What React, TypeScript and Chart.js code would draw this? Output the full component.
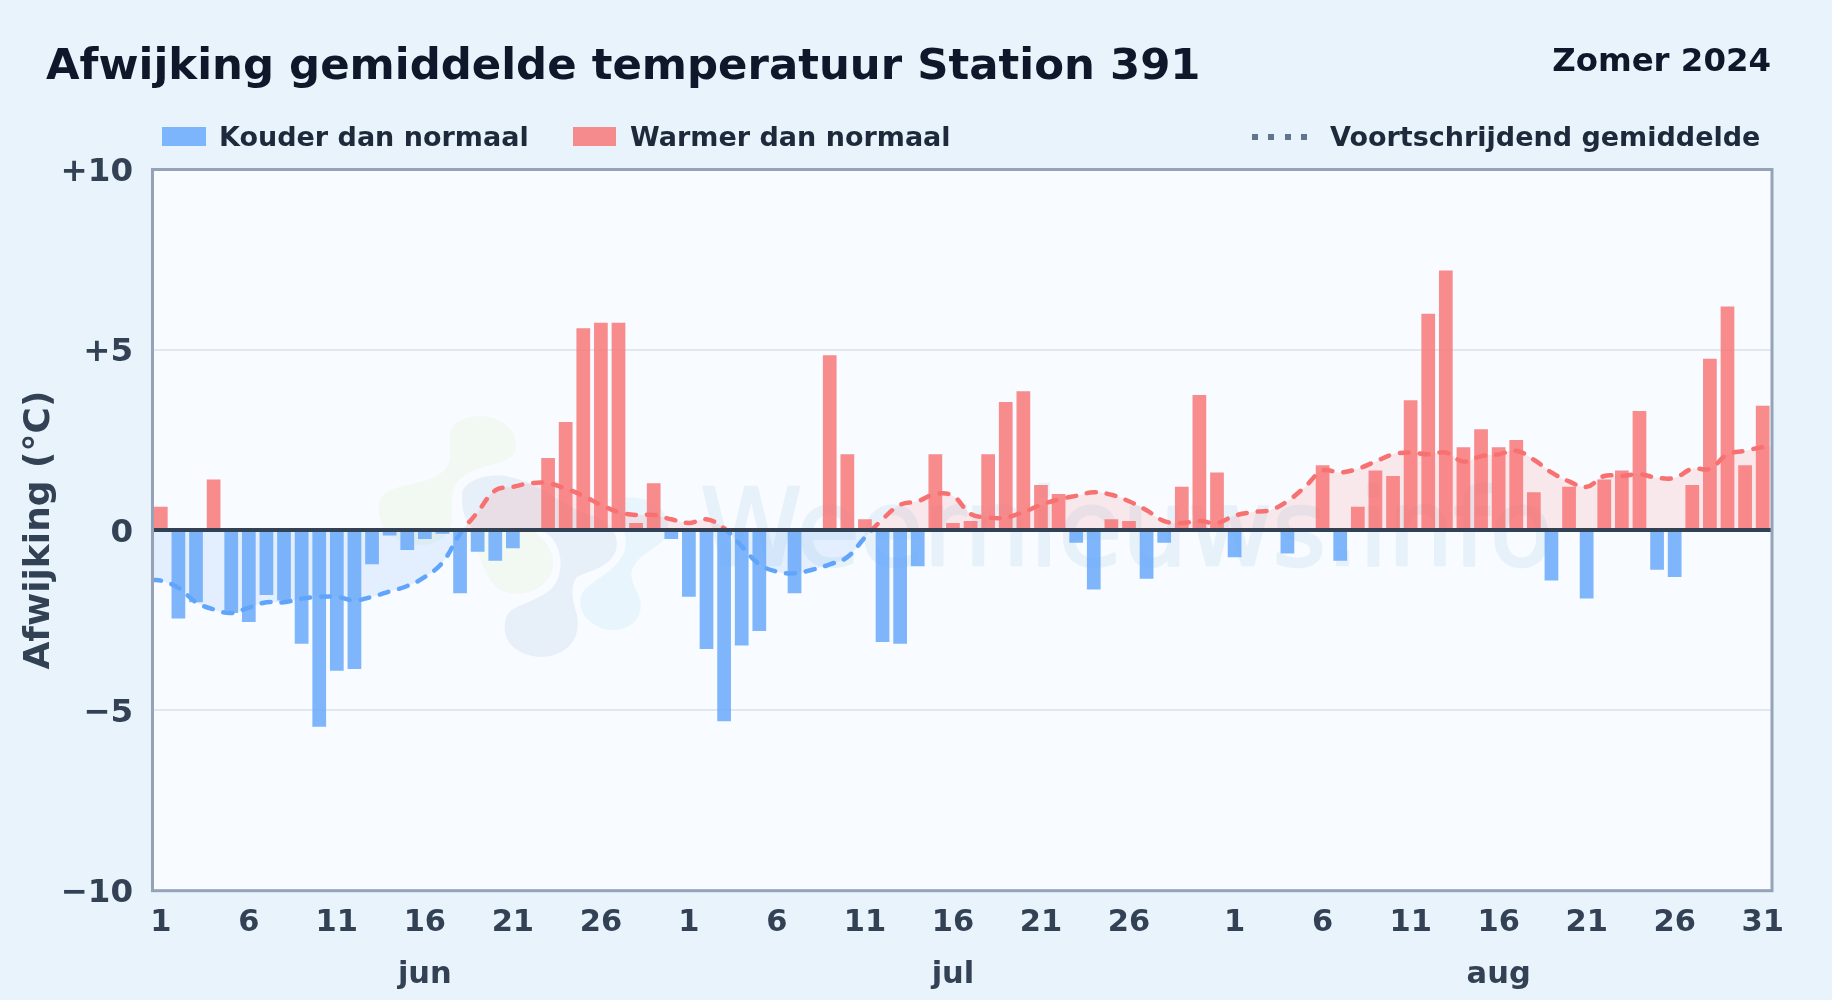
import React, { useEffect, useRef } from "react";
import { Chart, registerables } from "chart.js";

Chart.register(...registerables);

const FONT = '"DejaVu Sans", sans-serif';

const dayLabels = [
  "1","2","3","4","5","6","7","8","9","10","11","12","13","14","15","16","17","18","19","20","21","22","23","24","25","26","27","28","29","30",
  "1","2","3","4","5","6","7","8","9","10","11","12","13","14","15","16","17","18","19","20","21","22","23","24","25","26","27","28","29","30","31",
  "1","2","3","4","5","6","7","8","9","10","11","12","13","14","15","16","17","18","19","20","21","22","23","24","25","26","27","28","29","30","31",
];
const shownTickIndexes = [0,5,10,15,20,25,30,35,40,45,50,55,61,66,71,76,81,86,91];
const monthTicks: Record<number, string> = { 15: "jun", 45: "jul", 76: "aug" };

const deviation = [
  0.65,-2.45,-2.0,1.4,-2.3,-2.55,-1.8,-1.95,-3.15,-5.45,-3.9,-3.85,-0.95,-0.15,-0.55,-0.25,-0.1,-1.75,-0.6,-0.85,-0.5,0.05,2.0,3.0,5.6,5.75,5.75,0.2,1.3,-0.25,
  -1.85,-3.3,-5.3,-3.2,-2.8,0,-1.75,0,4.85,2.1,0.3,-3.1,-3.15,-1.0,2.1,0.2,0.25,2.1,3.55,3.85,1.25,1.0,-0.35,-1.65,0.3,0.25,-1.35,-0.35,1.2,3.75,1.6,
  -0.75,0,0,-0.65,0,1.8,-0.85,0.65,1.65,1.5,3.6,6.0,7.2,2.3,2.8,2.3,2.5,1.05,-1.4,1.2,-1.9,1.4,1.65,3.3,-1.1,-1.3,1.25,4.75,6.2,1.8,3.45,
];

const movingAverage = [
  -1.4,-1.6,-2.0,-2.2,-2.3,-2.15,-2.0,-2.0,-1.9,-1.85,-1.85,-1.95,-1.85,-1.7,-1.55,-1.3,-0.9,-0.1,0.5,1.1,1.2,1.3,1.3,1.15,0.95,0.7,0.5,0.42,0.42,0.3,
  0.2,0.3,0.05,-0.45,-0.95,-1.15,-1.2,-1.1,-0.95,-0.75,-0.2,0.3,0.7,0.8,1.0,0.95,0.45,0.35,0.35,0.5,0.7,0.85,0.95,1.05,0.98,0.8,0.55,0.25,0.2,0.25,0.2,
  0.4,0.5,0.55,0.8,1.2,1.65,1.6,1.7,1.9,2.1,2.15,2.1,2.15,1.9,2.05,2.1,2.2,1.95,1.6,1.35,1.2,1.5,1.5,1.55,1.45,1.45,1.7,1.7,2.1,2.2,2.3,
];
const movingAverageStart = -1.38;
const movingAverageEnd = 2.3;

const COLD = "rgba(96,165,250,0.8)";
const WARM = "rgba(248,113,113,0.8)";

const blobs = [
  { fill: "#f2f8f2", d: "M450 432C455 412 505 408 515 438C522 462 495 463 480 468C460 476 450 482 452 510C454 535 440 546 415 545C385 540 375 520 380 500C385 490 395 488 420 482C445 476 452 465 450 450Z" },
  { fill: "#f2f8f2", d: "M470 525C490 525 510 520 530 530C550 540 558 560 550 575C540 595 515 597 500 590C485 580 478 550 470 525Z" },
  { fill: "#e7f0f9", d: "M462 495C462 480 490 472 510 477C540 483 570 510 590 515C610 520 620 535 616 550C610 568 590 570 577 577C570 585 572 600 577 615C582 640 565 657 540 657C515 655 500 640 506 618C510 605 530 605 550 590C565 578 565 545 545 532C520 520 475 540 470 525C462 515 462 505 462 495Z" },
  { fill: "#e9f5fd", d: "M625 498C650 495 670 510 668 530C665 548 640 550 632 570C628 585 645 595 640 612C635 630 610 635 595 625C578 615 575 595 590 585C610 570 630 560 625 535C620 515 610 505 625 498Z" },
];

const backdrop = {
  id: "backdrop",
  beforeDraw(chart: any) {
    const { ctx, chartArea: a } = chart;
    ctx.save();
    ctx.fillStyle = "#f8fbff";
    ctx.fillRect(a.left, a.top, a.right - a.left, a.bottom - a.top);
    for (const b of blobs) {
      ctx.fillStyle = b.fill;
      ctx.fill(new Path2D(b.d));
    }
    ctx.fillStyle = "#e7f1fa";
    ctx.strokeStyle = "#e7f1fa";
    ctx.lineWidth = 2.5;
    ctx.lineJoin = "round";
    ctx.font = `400 107px ${FONT}`;
    ctx.textBaseline = "alphabetic";
    ctx.textAlign = "left";
    ctx.fillText("Weernieuws.info", 700, 565, 853);
    ctx.strokeText("Weernieuws.info", 700, 565, 853);
    ctx.restore();
  },
};

const frame = {
  id: "frame",
  afterDatasetsDraw(chart: any) {
    const { ctx, chartArea: a, scales } = chart;
    const y0 = scales.y.getPixelForValue(0);
    ctx.save();
    ctx.strokeStyle = "#334155";
    ctx.lineWidth = 4;
    ctx.beginPath();
    ctx.moveTo(a.left, y0);
    ctx.lineTo(a.right, y0);
    ctx.stroke();
    ctx.strokeStyle = "#94a3b8";
    ctx.lineWidth = 3;
    ctx.strokeRect(a.left + 0.5, a.top, a.right - a.left, a.bottom - a.top);
    ctx.restore();
  },
};

function splitStroke(c: any) {
  const { chart } = c;
  const { chartArea: a, scales, ctx } = chart;
  if (!a) return "#f87171";
  const stop = Math.min(1, Math.max(0, (scales.y.getPixelForValue(0) - a.top) / (a.bottom - a.top)));
  const g = ctx.createLinearGradient(0, a.top, 0, a.bottom);
  g.addColorStop(0, "#f87171");
  g.addColorStop(stop, "#f87171");
  g.addColorStop(stop, "#60a5fa");
  g.addColorStop(1, "#60a5fa");
  return g;
}

const textBase: React.CSSProperties = {
  position: "absolute",
  fontFamily: FONT,
  fontWeight: 700,
  whiteSpace: "nowrap",
  lineHeight: 1,
};

function LegendText({ left, text }: { left: number; text: string }) {
  return <div style={{ ...textBase, left, top: 123, fontSize: 27, color: "#1e293b" }}>{text}</div>;
}

export default function App() {
  const ref = useRef<HTMLCanvasElement>(null);

  useEffect(() => {
    const chart = new Chart(ref.current!, {
      type: "bar",
      plugins: [backdrop, frame],
      data: {
        labels: dayLabels,
        datasets: [
          {
            type: "line",
            label: "Voortschrijdend gemiddelde",
            xAxisID: "xLine",
            order: 0,
            data: [
              { x: -0.5, y: movingAverageStart },
              ...movingAverage.map((y, x) => ({ x, y })),
              { x: 91.5, y: movingAverageEnd },
            ],
            borderColor: splitStroke,
            borderWidth: 4.5,
            borderDash: [9, 11],
            borderCapStyle: "round",
            tension: 0.4,
            pointRadius: 0,
            fill: { target: { value: 0 }, above: "rgba(248,113,113,0.14)", below: "rgba(96,165,250,0.14)" },
          },
          {
            label: "Kouder dan normaal",
            order: 1,
            grouped: false,
            data: deviation.map((v) => (v < 0 ? v : null)),
            backgroundColor: COLD,
            barPercentage: 0.78,
            categoryPercentage: 1,
          },
          {
            label: "Warmer dan normaal",
            order: 1,
            grouped: false,
            data: deviation.map((v) => (v >= 0 ? v : null)),
            backgroundColor: WARM,
            barPercentage: 0.78,
            categoryPercentage: 1,
          },
        ],
      } as any,
      options: {
        animation: false,
        responsive: false,
        layout: { padding: { left: 0, top: 169.5, right: 60.5, bottom: 0 } },
        plugins: { legend: { display: false }, tooltip: { enabled: false } },
        scales: {
          x: {
            type: "category",
            position: "bottom",
            offset: true,
            grid: { display: false, drawTicks: false },
            border: { display: false },
            afterFit(s: any) { s.height = 60; },
            ticks: {
              autoSkip: false,
              maxRotation: 0,
              padding: 14,
              color: "#334155",
              font: { family: FONT, weight: "bold", size: 30.5 },
              callback(_v: any, i: number) { return shownTickIndexes.includes(i) ? dayLabels[i] : ""; },
            },
          },
          xMonth: {
            type: "category",
            position: "bottom",
            offset: true,
            grid: { display: false, drawTicks: false },
            border: { display: false },
            afterFit(s: any) { s.height = 49.3; },
            ticks: {
              autoSkip: false,
              maxRotation: 0,
              padding: 6,
              color: "#334155",
              font: { family: FONT, weight: "bold", size: 30.5 },
              callback(_v: any, i: number) { return monthTicks[i] ?? ""; },
            },
          },
          xLine: {
            type: "linear",
            position: "top",
            display: true,
            offset: false,
            min: -0.5,
            max: 91.5,
            grid: { display: false, drawTicks: false },
            border: { display: false },
            ticks: { display: false },
            afterFit(s: any) { s.height = 0; },
          },
          y: {
            min: -10,
            max: 10,
            afterFit(s: any) { s.width = 152; },
            border: { display: false },
            grid: { color: "#e2e8f0", lineWidth: 2, drawTicks: false },
            title: {
              display: true,
              text: "Afwijking (°C)",
              color: "#334155",
              font: { family: FONT, weight: "bold", size: 36 },
              padding: { top: 18, bottom: 0 },
            },
            ticks: {
              stepSize: 5,
              padding: 19,
              labelOffset: 3,
              color: "#334155",
              font: { family: FONT, weight: "bold", size: 32.5 },
              callback(v: any) { return v > 0 ? `+${v}` : v < 0 ? `\u2212${-v}` : "0"; },
            },
          },
        },
      } as any,
    });
    return () => chart.destroy();
  }, []);

  return (
    <div style={{ position: "absolute", left: 0, top: 0, width: 1832, height: 1000, background: "#e8f3fc", overflow: "hidden" }}>
      <canvas ref={ref} width={1832} height={1000} style={{ position: "absolute", left: 0, top: 0, width: 1832, height: 1000 }} />
      <div style={{ ...textBase, left: 46, top: 43, fontSize: 43.4, color: "#0f172a" }}>Afwijking gemiddelde temperatuur Station 391</div>
      <div style={{ ...textBase, right: 61, top: 44, fontSize: 32.4, color: "#0f172a" }}>Zomer 2024</div>
      <div style={{ position: "absolute", left: 162, top: 127, width: 44, height: 19, background: COLD }} />
      <LegendText left={219} text="Kouder dan normaal" />
      <div style={{ position: "absolute", left: 573, top: 127, width: 43, height: 19, background: WARM }} />
      <LegendText left={630} text="Warmer dan normaal" />
      {[1252, 1268, 1285, 1301].map((left) => (
        <div key={left} style={{ position: "absolute", left, top: 134, width: 6, height: 6, background: "#64748b" }} />
      ))}
      <LegendText left={1330} text="Voortschrijdend gemiddelde" />
    </div>
  );
}
